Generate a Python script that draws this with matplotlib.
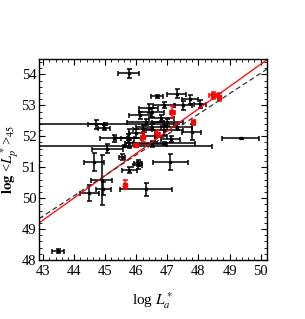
import matplotlib
matplotlib.use('Agg')
import matplotlib.pyplot as plt
from matplotlib.ticker import MultipleLocator
import numpy as np

plt.rcParams['font.family'] = ['Liberation Serif', 'DejaVu Serif']
plt.rcParams['mathtext.fontset'] = 'stix'

# black sample: log La, log <Lp>45, x error, y error
blk_x = [45.75, 46.67, 47.30, 47.72, 47.50, 46.90, 48.04, 46.40, 46.13, 46.50,
         46.80, 47.00, 46.30, 44.69, 44.96, 45.00, 45.60, 46.90, 45.75, 45.27,
         45.06, 44.64, 45.53, 45.78, 46.06, 46.04, 45.72, 45.78, 47.09, 46.30,
         44.88, 44.93, 44.49, 43.48, 49.36, 47.78, 46.50, 46.90, 46.60, 47.30,
         46.20, 46.00, 47.10, 46.50]
blk_y = [54.04, 53.29, 53.38, 53.20, 53.00, 53.00, 53.05, 52.90, 52.68, 52.78,
         52.60, 52.45, 52.45, 52.39, 52.28, 52.39, 51.68, 51.78, 51.93, 51.93,
         51.60, 51.17, 51.33, 50.90, 51.13, 51.06, 51.94, 51.77, 51.17, 50.28,
         50.58, 50.31, 50.17, 48.29, 51.93, 52.14, 52.30, 52.20, 52.00, 52.30,
         52.25, 52.10, 51.90, 51.75]
blk_xerr = [0.33, 0.20, 0.30, 0.25, 0.30, 0.35, 0.20, 0.30, 0.35, 0.40,
            0.40, 0.50, 0.60, 0.26, 0.20, 2.20, 2.85, 1.00, 0.40, 0.43,
            0.50, 0.32, 0.10, 0.25, 0.12, 0.15, 0.20, 0.15, 0.56, 0.84,
            0.35, 0.24, 0.30, 0.20, 0.60, 0.30, 0.50, 0.60, 0.40, 0.50,
            0.30, 0.25, 0.30, 0.50]
blk_yerr = [0.15, 0.05, 0.15, 0.15, 0.15, 0.10, 0.12, 0.15, 0.12, 0.15,
            0.10, 0.12, 0.10, 0.14, 0.08, 0.03, 0.03, 0.05, 0.30, 0.12,
            0.15, 0.30, 0.10, 0.10, 0.10, 0.12, 0.15, 0.10, 0.25, 0.20,
            0.80, 0.20, 0.25, 0.08, 0.03, 0.25, 0.10, 0.15, 0.20, 0.10,
            0.10, 0.15, 0.10, 0.10]

# red sample
red_x = [45.62, 45.98, 46.20, 46.67, 47.15, 47.83, 48.46, 48.67]
red_y = [50.44, 51.71, 51.98, 52.09, 52.78, 52.46, 53.32, 53.27]
red_xerr = [0.03, 0.05, 0.05, 0.08, 0.08, 0.05, 0.12, 0.05]
red_yerr = [0.15, 0.04, 0.15, 0.10, 0.20, 0.08, 0.12, 0.12]

# fitted lines: intercept at log La = 43, slope
red_fit = (49.29, 0.72)
dash_fit = (49.42, 0.66)

fig = plt.figure(figsize=(3.05, 3.19), dpi=100)
ax = fig.add_axes([0.128, 0.185, 0.747, 0.630])

ax.errorbar(blk_x, blk_y, xerr=blk_xerr, yerr=blk_yerr, fmt='s', color='black',
            ms=2, elinewidth=1.1, capsize=1.8, capthick=1.1)
ax.errorbar(red_x, red_y, xerr=red_xerr, yerr=red_yerr, fmt='s', color='red',
            ms=3.5, elinewidth=1.1, capsize=1.8, capthick=1.1)

xx = np.array([42.87, 50.2])
ax.plot(xx, red_fit[0] + red_fit[1] * (xx - 43), color='red', lw=0.9)
ax.plot(xx, dash_fit[0] + dash_fit[1] * (xx - 43), color='#333333', lw=0.9,
        ls=(0, (4, 2.5)))

ax.set_xlim(42.87, 50.2)
ax.set_ylim(48, 54.5)
ax.xaxis.set_major_locator(MultipleLocator(1))
ax.xaxis.set_minor_locator(MultipleLocator(0.2))
ax.yaxis.set_major_locator(MultipleLocator(1))
ax.yaxis.set_minor_locator(MultipleLocator(0.2))
ax.tick_params(which='both', direction='in', top=True, right=True, labelsize=10.5)
ax.tick_params(axis='y', pad=2)
ax.tick_params(which='major', length=4)
ax.tick_params(which='minor', length=2)
for s in ax.spines.values():
    s.set_linewidth(1)

ax.set_xlabel(r'log $L^*_a$', fontsize=11, labelpad=9)
ax.set_ylabel(r'$\mathbf{log}$ <$L^*_p$>$_{45}$', fontsize=10.5)
ax.yaxis.set_label_coords(-0.078, 0.5)

fig.savefig('out.png', dpi=100)
